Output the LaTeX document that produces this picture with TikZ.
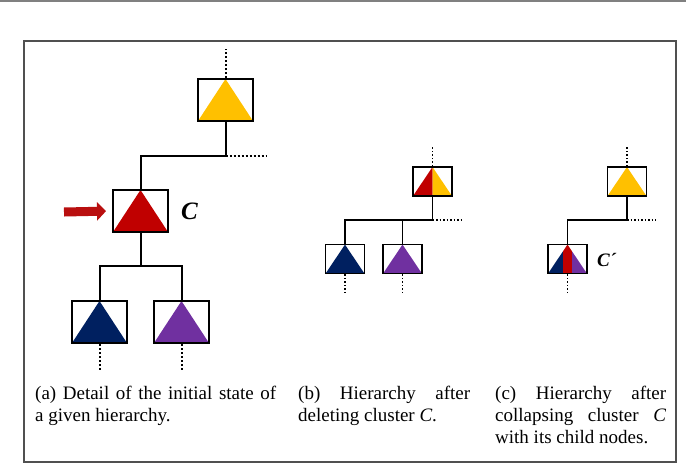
\documentclass[tikz,border=0pt]{standalone}
\usepackage{fontspec}
\setmainfont{Liberation Serif}
\usepackage{tikz}
\usetikzlibrary{arrows.meta, positioning, calc}
\definecolor{rootcolor}{RGB}{255,192,0}
\definecolor{clustcolor}{RGB}{192,0,0}
\definecolor{leftcolor}{RGB}{0,32,96}
\definecolor{rightcolor}{RGB}{112,48,160}
\definecolor{pointcolor}{RGB}{185,15,15}
\definecolor{framecolor}{RGB}{80,80,80}
\tikzset{
  cluster/.style={draw, line width=2pt, inner sep=0pt, minimum width=55pt,
                  minimum height=42pt,
                  path picture={\fill[#1] (path picture bounding box.north)
                    -- (path picture bounding box.south west)
                    -- (path picture bounding box.south east) -- cycle;}},
  cluster/.default=rootcolor,
  mini/.style={line width=1.6pt, minimum width=39pt, minimum height=29pt},
  halves/.style 2 args={draw, inner sep=0pt, mini,
                  path picture={
                    \fill[#1] (path picture bounding box.north)
                      -- (path picture bounding box.south west)
                      -- (path picture bounding box.south) -- cycle;
                    \fill[#2] (path picture bounding box.north)
                      -- (path picture bounding box.south)
                      -- (path picture bounding box.south east) -- cycle;}},
  collapsed/.style={draw, inner sep=0pt, mini,
                  path picture={
                    \clip (path picture bounding box.north)
                      -- (path picture bounding box.south west)
                      -- (path picture bounding box.south east) -- cycle;
                    \fill[leftcolor] (path picture bounding box.south west)
                      rectangle ([xshift=-4.5pt]path picture bounding box.north);
                    \fill[clustcolor] ([xshift=-4.5pt]path picture bounding box.south)
                      rectangle ([xshift=4.5pt]path picture bounding box.north);
                    \fill[rightcolor] ([xshift=4.5pt]path picture bounding box.south)
                      rectangle (path picture bounding box.north east);}},
  link/.style={line width=#1},
  link/.default=2pt,
  stub/.style={dotted, line width=#1},
  stub/.default=2pt,
  pointer/.style={draw=pointcolor, line width=9pt, shorten >=6pt,
                  -{Triangle[length=9pt, width=18pt]}},
  clabel/.style={inner sep=0pt, font=\fontsize{25}{25}\selectfont\bfseries\itshape},
  subcap/.style={inner sep=0pt, anchor=north west, align=justify,
                 font=\fontsize{19}{22}\selectfont},
}

\begin{document}
\begin{tikzpicture}[x=1pt, y=-1pt]

  \useasboundingbox (0,0) rectangle (686,464);
  \draw[gray, line width=2pt] (0,1) -- (686,1);
  \draw[framecolor, line width=1.2pt] (24,41) rectangle (676,462);

  % (a) initial state
  \node[cluster=rootcolor] (ya) at (225.5,100) {};
  \node[cluster=clustcolor, below=67pt of ya, xshift=-85pt] (ca) {};
  \node[cluster=leftcolor, below=67pt of ca, xshift=-41pt] (na) {};
  \node[cluster=rightcolor, below=67pt of ca, xshift=41pt] (pa) {};
  \node[clabel, right=12pt of ca] (clab) {C};
  \coordinate (src) at (64,212);

  \draw[stub] (ya.north) -- ++(0,-29);
  \draw[link] (ya.south) -- ++(0,34) coordinate (ja) -| (ca.north);
  \draw[stub] (ja) -- ++(41,0);
  \draw[link] (ca.south) -- ++(0,33) coordinate (ka) -| (na.north);
  \draw[link] (ka) -| (pa.north);
  \draw[stub] (na.south) -- ++(0,26);
  \draw[stub] (pa.south) -- ++(0,26);
  \draw[pointer] (src) -- (ca.west);

  % (b) after deleting
  \node[halves={clustcolor}{rootcolor}] (yb) at (432.5,181.5) {};
  \node[cluster=leftcolor, mini, below=47pt of yb, xshift=-87.5pt] (nb) {};
  \node[cluster=rightcolor, mini, below=47pt of yb, xshift=-30pt] (pb) {};

  \draw[stub=1.5pt] (yb.north) -- ++(0,-19);
  \draw[link=1.5pt] (yb.south) -- ++(0,23) coordinate (jb) -| (nb.north);
  \draw[link=1.5pt] (jb) -| (pb.north);
  \draw[stub=1.5pt] (jb) -- ++(30,0);
  \draw[stub=1.5pt] (nb.south) -- ++(0,20);
  \draw[stub=1.5pt] (pb.south) -- ++(0,20);

  % (c) after collapsing
  \node[cluster=rootcolor, mini] (yc) at (627,181.5) {};
  \node[collapsed, below=47pt of yc, xshift=-59.5pt] (cc) {};
  \node[clabel, font=\fontsize{19}{19}\selectfont\bfseries\itshape,
        right=9pt of cc, yshift=-1pt] (cplab) {C´};

  \draw[stub=1.5pt] (yc.north) -- ++(0,-19);
  \draw[link=1.5pt] (yc.south) -- ++(0,23) coordinate (jc) -| (cc.north);
  \draw[stub=1.5pt] (jc) -- ++(29,0);
  \draw[stub=1.5pt] (cc.south) -- ++(0,20);

  % captions
  \node[subcap, text width=241pt] (capa) at (35,386)
    {(a) Detail of the initial state of\linebreak a given hierarchy.};
  \node[subcap, text width=172pt] (capb) at (298,386)
    {(b) Hierarchy after\linebreak deleting cluster \textit{C}.};
  \node[subcap, text width=171pt] (capc) at (495,386)
    {(c) Hierarchy after\linebreak collapsing cluster \textit{C}\linebreak
     with its child nodes.};

\end{tikzpicture}
\end{document}
